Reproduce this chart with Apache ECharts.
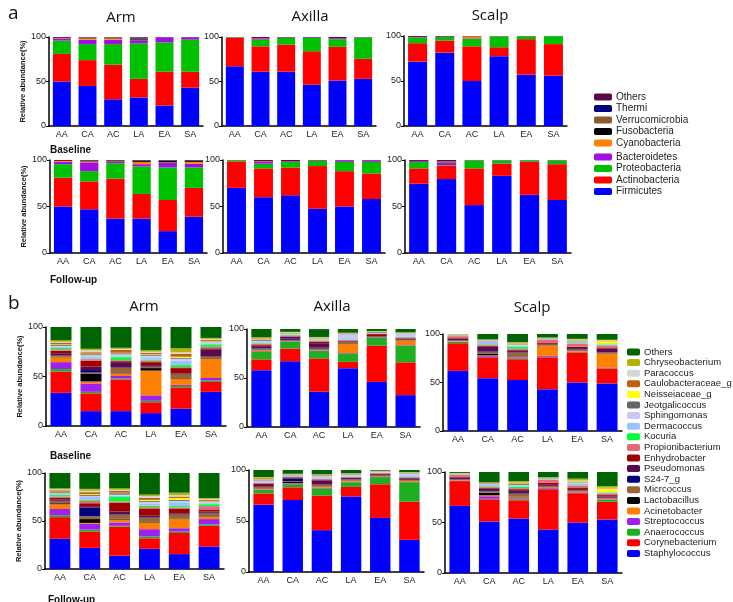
<!DOCTYPE html>
<html>
<head>
<meta charset="utf-8">
<script src="https://cdn.jsdelivr.net/npm/echarts@6/dist/echarts.min.js"></script>
<style>
  html, body { margin: 0; padding: 0; background: #fff; }
  #chart { width: 733px; height: 602px; }
</style>
</head>
<body>
<div id="chart"></div>
<script>
// x categories, same for every panel
const categories = ['AA', 'CA', 'AC', 'LA', 'EA', 'SA'];

// panel a: phylum level, stacked from the bottom
const phyla = ['Firmicutes', 'Actinobacteria', 'Proteobacteria', 'Bacteroidetes', 'Cyanobacteria',
  'Fusobacteria', 'Verrucomicrobia', 'Thermi', 'Others'];
const phylumColors = ['#0000ff', '#ff0000', '#00c000', '#a010e0', '#ff8000',
  '#000000', '#8b5a2b', '#00007f', '#5a0a4a'];

// one row per bar (AA..SA), one value per phylum
const phylumArmBaseline = [
  [50, 31, 15, 2.5, 0.5, 0, 0, 0, 1],
  [45, 29, 18, 5, 1.5, 0.5, 0.5, 0, 0.5],
  [30, 39, 23, 5, 1.5, 0.5, 0.5, 0, 0.5],
  [32, 21, 40, 3.5, 0.5, 1.5, 0.5, 0.5, 0.5],
  [23, 38, 33, 5.5, 0, 0, 0, 0, 0.5],
  [43, 18, 36, 2.5, 0, 0, 0, 0, 0.5]
];
const phylumArmFollowup = [
  [50, 31, 14.5, 2.5, 1, 0, 0, 0, 1],
  [47, 30, 11, 9.5, 1, 1, 0, 0, 0.5],
  [37, 43, 16.5, 1.5, 0.5, 1, 0, 0, 0.5],
  [37, 26.5, 29.5, 2.5, 2.5, 1.5, 0, 0, 0.5],
  [23.5, 33.5, 35, 5, 0.5, 1.5, 0, 0.5, 0.5],
  [39, 31, 22, 4, 2, 1.5, 0, 0, 0.5]
];
const phylumAxillaBaseline = [
  [67, 32, 0.5, 0.3, 0, 0, 0, 0, 0.2],
  [61, 28.5, 7.5, 1, 0, 0, 0.5, 0, 1.5],
  [61, 30.5, 7.5, 0.5, 0, 0, 0, 0, 0.5],
  [46.5, 37.5, 15, 0.5, 0, 0, 0, 0, 0.5],
  [51, 38, 8.5, 1, 0, 0, 0, 0, 1.5],
  [53, 22.5, 24, 0.3, 0, 0, 0, 0, 0.2]
];
const phylumAxillaFollowup = [
  [70, 28.5, 1.3, 0.1, 0, 0, 0, 0, 0.1],
  [60, 31, 5, 2, 0.5, 0, 0, 0, 1.5],
  [62, 30, 6, 0.5, 0, 0, 0, 0, 1.5],
  [47.5, 46, 5.5, 0.5, 0, 0, 0, 0, 0.5],
  [50, 38, 10, 1.5, 0, 0, 0, 0, 0.5],
  [58, 27.5, 12.5, 1.5, 0, 0, 0, 0, 0.5]
];
const phylumScalpBaseline = [
  [71.5, 20.5, 6.5, 0.5, 0, 0, 0, 0, 1],
  [81.5, 13.5, 4, 0.3, 0, 0, 0, 0, 0.7],
  [50, 38.5, 8.5, 0.5, 2, 0, 0, 0, 0.5],
  [77.5, 10, 12, 0.3, 0, 0, 0, 0, 0.2],
  [57, 39.5, 3.3, 0.1, 0, 0, 0, 0, 0.1],
  [56, 35, 8.8, 0.1, 0, 0, 0, 0, 0.1]
];
const phylumScalpFollowup = [
  [74.5, 16.5, 7, 1, 0, 0, 0, 0, 1],
  [79.5, 14.5, 0.5, 2.5, 0, 0, 1.5, 0, 1.5],
  [51.5, 39.5, 8.5, 0.3, 0, 0, 0, 0, 0.2],
  [83, 13, 3.5, 0.3, 0, 0, 0, 0, 0.2],
  [62.5, 35.5, 1.5, 0.3, 0, 0, 0, 0, 0.2],
  [57, 38.5, 4, 0.3, 0, 0, 0, 0, 0.2]
];

// panel b: genus level, stacked from the bottom
const genera = ['Staphylococcus', 'Corynebacterium', 'Anaerococcus', 'Streptococcus', 'Acinetobacter',
  'Lactobacillus', 'Micrcoccus', 'S24-7_g', 'Pseudomonas', 'Enhydrobacter', 'Propionibacterium',
  'Kocuria', 'Dermacoccus', 'Sphingomonas', 'Jeotgalicoccus', 'Neisseiaceae_g',
  'Caulobacteraceae_g', 'Paracoccus', 'Chryseobacterium', 'Others'];
const genusColors = ['#0000ff', '#ff0000', '#1fae1f', '#a020f0', '#ff8000',
  '#000000', '#996633', '#00007f', '#5c0a4f', '#a00000', '#e46a78',
  '#00ff33', '#99c2ff', '#c8c8f5', '#666666', '#ffff00',
  '#c0600f', '#d6d6d6', '#b3b300', '#006400'];

const genusArmBaseline = [
  [33.5, 21.5, 2.5, 7, 5, 0.5, 1, 0.5, 2, 2.5, 1.5, 1.5, 1, 1, 1, 0.5, 1.5, 1, 1.5, 13.5],
  [15, 18, 1.5, 8.5, 2, 8, 1, 2.5, 3.5, 6, 1.5, 0.5, 2, 1.5, 1, 0.5, 1.5, 2, 1.5, 22],
  [15, 32, 1, 2.5, 2, 0.5, 6, 0.5, 5, 1, 1, 3, 1, 2, 1, 0.5, 3, 1, 1, 21],
  [13, 11, 1.5, 5.5, 25, 2.5, 1, 0.5, 1.5, 3, 1.5, 1, 2, 2, 1, 0.5, 1.5, 1, 1.5, 23.5],
  [17.5, 21.5, 1.5, 1, 6.5, 0.5, 3.5, 0.5, 0.5, 5.5, 1, 2, 4.5, 2, 1, 1, 3, 1.5, 4, 21.5],
  [34.5, 10, 1.5, 2.5, 19.5, 0.5, 1.5, 0.5, 7, 1, 1.5, 2.5, 1, 1.5, 0.5, 0.5, 1, 1, 1, 11]
];
const genusArmFollowup = [
  [31.5, 22.5, 2, 6.5, 5, 1, 2, 0.5, 1.5, 1.5, 1.5, 1.5, 1, 1, 1, 0.5, 1.5, 1, 1, 16],
  [22, 17, 2, 6, 1, 4, 3, 9, 1.5, 3, 2.5, 1, 3, 1, 1, 1, 2, 1.5, 2, 16.5],
  [14, 30, 1, 3.5, 3, 1, 4, 0.5, 3, 9, 1.5, 4.5, 1.5, 1, 1.5, 0.5, 2, 1, 1.5, 16],
  [21, 11, 2, 7.5, 7, 1, 4, 0.5, 1.5, 7, 2, 1.5, 2, 2, 1, 1, 2, 2, 1.5, 22.5],
  [15.5, 22, 1.5, 3.5, 9.5, 0.5, 4, 0.5, 1, 5, 1, 1.5, 4, 1.5, 1, 2, 1.5, 1.5, 2.5, 20.5],
  [23.5, 21.5, 1.5, 5.5, 2.5, 0.5, 3, 0.5, 1.5, 2, 3.5, 2, 1, 1.5, 0.5, 0.5, 1, 1, 1, 26]
];
const genusAxillaBaseline = [
  [58, 11, 8, 0.5, 1, 0.5, 1, 0.5, 2, 1, 1.5, 0.5, 1, 1.5, 1, 0.5, 1, 0.5, 0.5, 8.5],
  [67, 13, 7, 0.5, 0.5, 0.5, 0.5, 1.5, 1.5, 0.5, 1, 0.5, 0.5, 0.5, 0.5, 0.3, 0.5, 0.5, 0.3, 3],
  [36, 34, 7.5, 0.5, 0.5, 0.5, 1, 1, 4.5, 1.5, 1, 0.5, 1, 0.5, 0.5, 0.3, 0.5, 0.3, 0.3, 8],
  [60, 6.5, 8.5, 0.5, 9.5, 0.5, 1, 0.5, 0.5, 0.5, 1, 0.3, 0.5, 5, 0.3, 0.2, 0.5, 0.2, 0.2, 4],
  [46, 37, 8, 0.3, 0.3, 0.2, 0.3, 0.2, 0.5, 2, 0.5, 0.2, 0.5, 0.3, 0.8, 0.2, 0.3, 0.2, 0.2, 2],
  [32.5, 33.5, 17, 0.5, 4.5, 0.3, 0.5, 0.3, 1, 0.5, 1, 0.3, 0.5, 3, 0.3, 0.2, 0.3, 0.2, 0.2, 3.5]
];
const genusAxillaFollowup = [
  [66, 11, 3.5, 0.5, 1, 0.3, 1, 0.5, 1.5, 1, 1, 0.3, 0.7, 1.5, 1, 0.5, 0.7, 0.5, 0.5, 7],
  [70.5, 12.5, 3, 0.5, 0.5, 1.5, 0.5, 2.5, 1, 0.5, 0.5, 0.3, 0.5, 0.5, 0.3, 0.2, 0.5, 0.3, 0.2, 4],
  [41, 34, 7, 0.5, 1, 0.3, 2, 0.5, 3.5, 0.5, 1, 0.3, 0.5, 2, 0.5, 0.2, 0.5, 0.3, 0.2, 4.2],
  [74, 9.5, 4.5, 0.5, 1, 0.3, 1, 0.3, 1, 0.5, 0.5, 0.3, 0.5, 1.5, 0.5, 0.2, 0.3, 0.2, 0.2, 3.2],
  [53, 33, 7, 0.3, 0.5, 0.2, 0.5, 0.2, 0.5, 1, 0.8, 0.2, 0.5, 0.5, 0.3, 0.2, 0.2, 0.2, 0.2, 0.7],
  [31.5, 37.5, 19, 0.3, 1, 0.3, 0.5, 0.3, 1.5, 0.5, 0.5, 0.3, 1, 2.5, 0.3, 0.2, 0.3, 0.2, 0.2, 2.1]
];
const genusScalpBaseline = [
  [62, 28.5, 1.5, 0.3, 0.5, 0.2, 0.5, 0.3, 1.5, 0.5, 2, 0.2, 0.3, 0.3, 0.3, 0.2, 0.3, 0.3, 0.2, 0.1],
  [54.5, 21.5, 0.5, 1, 0.5, 1.5, 1.5, 1, 5, 1, 1, 0.5, 2.5, 0.5, 0.5, 0.3, 0.3, 0.5, 0.3, 5.6],
  [52.5, 21.5, 1, 1, 0.5, 0.5, 4, 0.5, 1.5, 1, 1, 2, 1, 1, 0.5, 0.5, 0.5, 0.5, 0.5, 8.5],
  [43, 33, 0.5, 1, 10.5, 0.3, 0.5, 0.3, 0.5, 1, 3.5, 0.3, 0.5, 0.3, 0.3, 0.2, 0.3, 0.2, 0.2, 3.6],
  [50, 31, 0.5, 0.5, 0.5, 0.5, 1, 0.5, 1, 1.5, 3, 0.5, 1.5, 0.5, 0.5, 0.5, 0.5, 0.5, 0.5, 5],
  [49, 15.5, 0.5, 0.5, 14.5, 0.3, 0.5, 0.3, 4, 1, 2, 0.5, 0.5, 0.5, 0.5, 2.5, 0.5, 0.5, 0.5, 5.9]
];
const genusScalpFollowup = [
  [66.5, 24.5, 0.5, 0.3, 0.3, 0.2, 0.5, 0.3, 1.5, 0.5, 2, 0.2, 0.3, 0.3, 0.3, 0.2, 0.3, 0.2, 0.2, 0.9],
  [51, 22, 0.5, 2.5, 1, 2.5, 1.5, 1, 1.5, 1, 1, 0.5, 1.5, 0.5, 0.3, 0.3, 0.5, 0.3, 0.3, 10.3],
  [54, 18, 1, 1, 1, 0.5, 3, 0.5, 3, 1, 1, 1.5, 1, 0.5, 1, 0.5, 0.5, 0.5, 1.5, 9],
  [43, 40, 0.5, 1, 0.5, 0.3, 0.5, 0.5, 1, 2, 3, 0.3, 0.5, 0.3, 0.3, 0.2, 0.3, 0.3, 0.2, 5.3],
  [50, 29, 0.5, 0.5, 1, 0.3, 0.5, 0.3, 1, 1, 2.5, 0.3, 1.5, 1, 0.5, 1, 0.5, 0.5, 1.5, 6.6],
  [53, 17.5, 2, 0.5, 0.5, 0.3, 0.5, 0.3, 1, 1.5, 1.5, 0.5, 0.5, 0.5, 0.3, 3, 0.5, 0.5, 1.5, 14.1]
];

// each small plot: its data, which set of names/colours, and where it sits
const panels = [
  { rows: phylumArmBaseline, names: phyla, colors: phylumColors, left: 49, top: 37, width: 154, height: 89, yName: true },
  { rows: phylumAxillaBaseline, names: phyla, colors: phylumColors, left: 222, top: 37, width: 154, height: 89 },
  { rows: phylumScalpBaseline, names: phyla, colors: phylumColors, left: 404, top: 36, width: 163, height: 90 },
  { rows: phylumArmFollowup, names: phyla, colors: phylumColors, left: 50, top: 160, width: 157, height: 93, yName: true },
  { rows: phylumAxillaFollowup, names: phyla, colors: phylumColors, left: 223, top: 160, width: 162, height: 93 },
  { rows: phylumScalpFollowup, names: phyla, colors: phylumColors, left: 405, top: 160, width: 166, height: 93 },
  { rows: genusArmBaseline, names: genera, colors: genusColors, left: 46, top: 327, width: 180, height: 99, yName: true },
  { rows: genusAxillaBaseline, names: genera, colors: genusColors, left: 247, top: 329, width: 173, height: 98 },
  { rows: genusScalpBaseline, names: genera, colors: genusColors, left: 443, top: 334, width: 179, height: 97 },
  { rows: genusArmFollowup, names: genera, colors: genusColors, left: 45, top: 473, width: 179, height: 96, yName: true },
  { rows: genusAxillaFollowup, names: genera, colors: genusColors, left: 249, top: 470, width: 175, height: 102 },
  { rows: genusScalpFollowup, names: genera, colors: genusColors, left: 445, top: 472, width: 177, height: 101 }
];

const labelFont = 'Liberation Sans, Arial, sans-serif';
const titleFont = 'Open Sans, sans-serif';

let grid = [], xAxis = [], yAxis = [], series = [];
panels.forEach((p, i) => {
  grid.push({ left: p.left, top: p.top, width: p.width, height: p.height });
  xAxis.push({
    gridIndex: i, type: 'category', data: categories,
    axisLine: { lineStyle: { color: '#000', width: 1.5 } },
    axisTick: { alignWithLabel: true, length: 3, lineStyle: { color: '#000' } },
    axisLabel: { fontSize: 9, color: '#222', fontFamily: labelFont, margin: 4 }
  });
  yAxis.push({
    gridIndex: i, type: 'value', min: 0, max: 100, interval: 50,
    name: p.yName ? 'Relative abundance(%)' : '',
    nameLocation: 'middle', nameGap: i < 6 ? 18 : 19,
    nameTextStyle: { fontSize: 7.5, fontWeight: 'bold', color: '#111', fontFamily: labelFont },
    splitLine: { show: false },
    axisLine: { show: true, lineStyle: { color: '#000', width: 1.5 } },
    axisTick: { show: true, length: 3, lineStyle: { color: '#000' } },
    axisLabel: { fontSize: 9, color: '#222', fontFamily: labelFont, margin: 3 }
  });
  p.names.forEach((name, k) => {
    series.push({
      type: 'bar', name: name, stack: 'p' + i,
      xAxisIndex: i, yAxisIndex: i,
      barCategoryGap: '30%',
      itemStyle: { color: p.colors[k] },
      data: p.rows.map(r => r[k]),
      silent: true
    });
  });
});

function legendItems(list, names, colors) {
  return list.map(n => ({ name: n, itemStyle: { color: colors[names.indexOf(n)] } }));
}

const legendBase = {
  orient: 'vertical', selectedMode: false, itemWidth: 18, itemHeight: 7,
  textStyle: { fontSize: 10, color: '#222', fontFamily: labelFont, padding: [0, 0, 0, -1] },
  padding: 0
};

const option = {
  animation: false,
  backgroundColor: '#fff',
  title: [
    { text: 'a', left: 3, top: -1, textStyle: { fontSize: 19, fontWeight: 'normal', fontFamily: titleFont, color: '#111' } },
    { text: 'Arm', left: 116, top: 5, textAlign: 'center', textStyle: { fontSize: 15, fontWeight: 'normal', fontFamily: titleFont, color: '#111' } },
    { text: 'Axilla', left: 305, top: 4, textAlign: 'center', textStyle: { fontSize: 15, fontWeight: 'normal', fontFamily: titleFont, color: '#111' } },
    { text: 'Scalp', left: 485, top: 3, textAlign: 'center', textStyle: { fontSize: 15, fontWeight: 'normal', fontFamily: titleFont, color: '#111' } },
    { text: 'Baseline', left: 45, top: 140, textStyle: { fontSize: 10, fontWeight: 'bold', fontFamily: labelFont, color: '#111' } },
    { text: 'Follow-up', left: 45, top: 270, textStyle: { fontSize: 10, fontWeight: 'bold', fontFamily: labelFont, color: '#111' } },
    { text: 'b', left: 3, top: 289, textStyle: { fontSize: 19, fontWeight: 'normal', fontFamily: titleFont, color: '#111' } },
    { text: 'Arm', left: 139, top: 294, textAlign: 'center', textStyle: { fontSize: 15, fontWeight: 'normal', fontFamily: titleFont, color: '#111' } },
    { text: 'Axilla', left: 327, top: 294, textAlign: 'center', textStyle: { fontSize: 15, fontWeight: 'normal', fontFamily: titleFont, color: '#111' } },
    { text: 'Scalp', left: 527, top: 295, textAlign: 'center', textStyle: { fontSize: 15, fontWeight: 'normal', fontFamily: titleFont, color: '#111' } },
    { text: 'Baseline', left: 45, top: 446, textStyle: { fontSize: 10, fontWeight: 'bold', fontFamily: labelFont, color: '#111' } },
    { text: 'Follow-up', left: 43, top: 590, textStyle: { fontSize: 10, fontWeight: 'bold', fontFamily: labelFont, color: '#111' } }
  ],
  legend: [
    Object.assign({}, legendBase, {
      left: 594, top: 92, itemGap: 1.5,
      data: legendItems(['Others', 'Thermi', 'Verrucomicrobia', 'Fusobacteria', 'Cyanobacteria'], phyla, phylumColors)
    }),
    Object.assign({}, legendBase, {
      left: 594, top: 152, itemGap: 1.5,
      data: legendItems(['Bacteroidetes', 'Proteobacteria', 'Actinobacteria', 'Firmicutes'], phyla, phylumColors)
    }),
    Object.assign({}, legendBase, {
      left: 627, top: 347, itemGap: 0.6, itemWidth: 13, itemHeight: 7,
      textStyle: { fontSize: 9.5, color: '#222', fontFamily: labelFont, padding: [0, 0, 0, -1] },
      data: legendItems(genera.slice().reverse(), genera, genusColors)
    })
  ],
  grid: grid,
  xAxis: xAxis,
  yAxis: yAxis,
  series: series
};

const chart = echarts.init(document.getElementById('chart'), null, { renderer: 'canvas' });
chart.setOption(option);
</script>
</body>
</html>
